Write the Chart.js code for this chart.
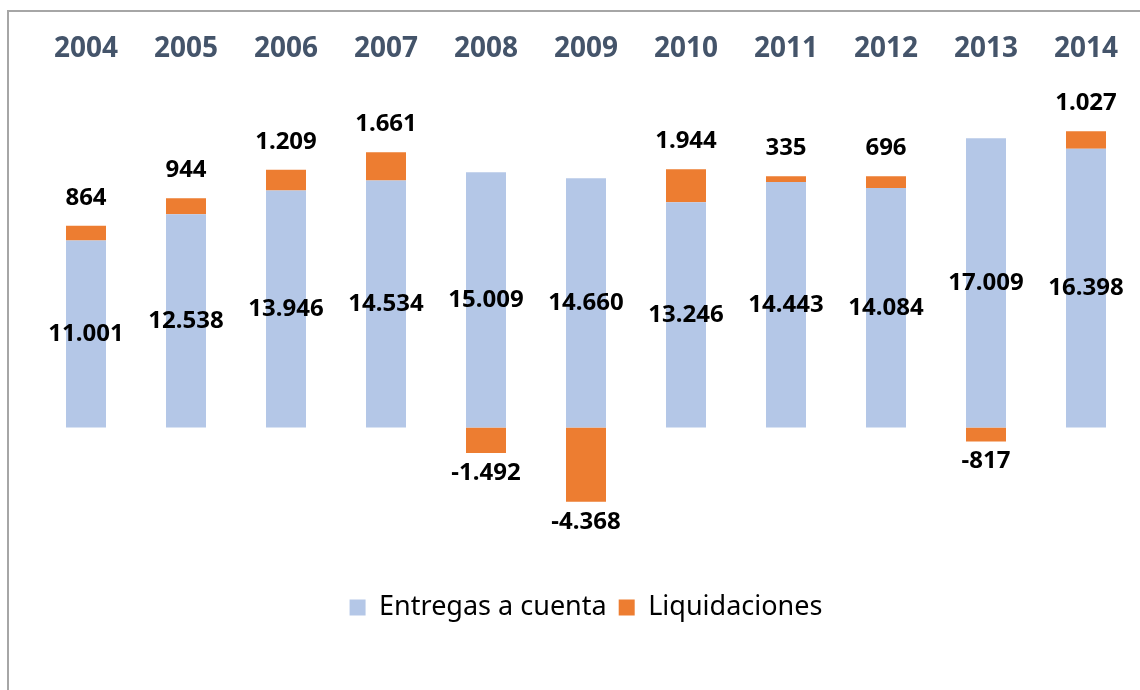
<!DOCTYPE html>
<html>
<head>
<meta charset="utf-8">
<script src="https://cdn.jsdelivr.net/npm/chart.js@4/dist/chart.umd.min.js"></script>
<style>
  html, body { margin: 0; padding: 0; background: #fff; }
  #wrap { position: relative; width: 1140px; height: 690px; overflow: hidden; }
  #frame { position: absolute; left: 7px; top: 10px; width: 1200px; height: 800px;
           border-left: 2px solid #a6a6a6; border-top: 2px solid #a6a6a6; }
  #chart { position: absolute; left: 0; top: 0; }
</style>
</head>
<body>
<div id="wrap">
  <div id="frame"></div>
  <canvas id="chart" width="1140" height="690"></canvas>
</div>
<script>
// years along the top axis
const years = ['2004', '2005', '2006', '2007', '2008', '2009', '2010', '2011', '2012', '2013', '2014'];
// millions of euros
const entregas = [11001, 12538, 13946, 14534, 15009, 14660, 13246, 14443, 14084, 17009, 16398];
const liquidaciones = [864, 944, 1209, 1661, -1492, -4368, 1944, 335, 696, -817, 1027];

let blue = '#B4C7E7';
let orange = '#ED7D31';

function fmt(v) {
  let s = Math.abs(v).toString();
  s = s.replace(/\B(?=(\d{3})+(?!\d))/g, '.');
  return (v < 0 ? '-' : '') + s;
}

// draws the value labels like the excel ones
const valueLabels = {
  id: 'valueLabels',
  afterDatasetsDraw(chart) {
    const ctx = chart.ctx;
    ctx.save();
    ctx.font = 'bold 24px "Noto Sans"';
    ctx.fillStyle = '#000';
    ctx.textAlign = 'center';
    ctx.textBaseline = 'middle';
    chart.data.datasets.forEach((ds, di) => {
      const meta = chart.getDatasetMeta(di);
      meta.data.forEach((bar, i) => {
        let v = ds.data[i];
        let y;
        if (di == 0) {
          y = (bar.y + bar.base) / 2;
        } else {
          y = v >= 0 ? bar.y - 28 : bar.y + 20;
        }
        ctx.fillText(fmt(v), bar.x, y);
      });
    });
    ctx.restore();
  }
};

const ctx = document.getElementById('chart');
new Chart(ctx, {
  type: 'bar',
  data: {
    labels: years,
    datasets: [
      { label: 'Entregas a cuenta', data: entregas, backgroundColor: blue },
      { label: 'Liquidaciones', data: liquidaciones, backgroundColor: orange }
    ]
  },
  options: {
    responsive: false,
    animation: false,
    datasets: {
      bar: { barPercentage: 0.4, categoryPercentage: 1 }
    },
    layout: {
      padding: { left: 36, right: 4, top: 28, bottom: 59 }
    },
    scales: {
      x: {
        position: 'top',
        stacked: true,
        grid: { display: false, drawTicks: false },
        border: { display: false },
        ticks: {
          color: '#44546A',
          padding: 4,
          font: { family: 'Noto Sans', size: 28, weight: 'bold' }
        }
      },
      y: {
        stacked: true,
        display: false,
        min: -9080,
        max: 21050
      }
    },
    plugins: {
      tooltip: { enabled: false },
      legend: {
        position: 'bottom',
        labels: {
          color: '#000',
          boxWidth: 16,
          boxHeight: 16,
          padding: 12,
          font: { family: 'Noto Sans', size: 27 }
        }
      }
    }
  },
  plugins: [valueLabels]
});
</script>
</body>
</html>
